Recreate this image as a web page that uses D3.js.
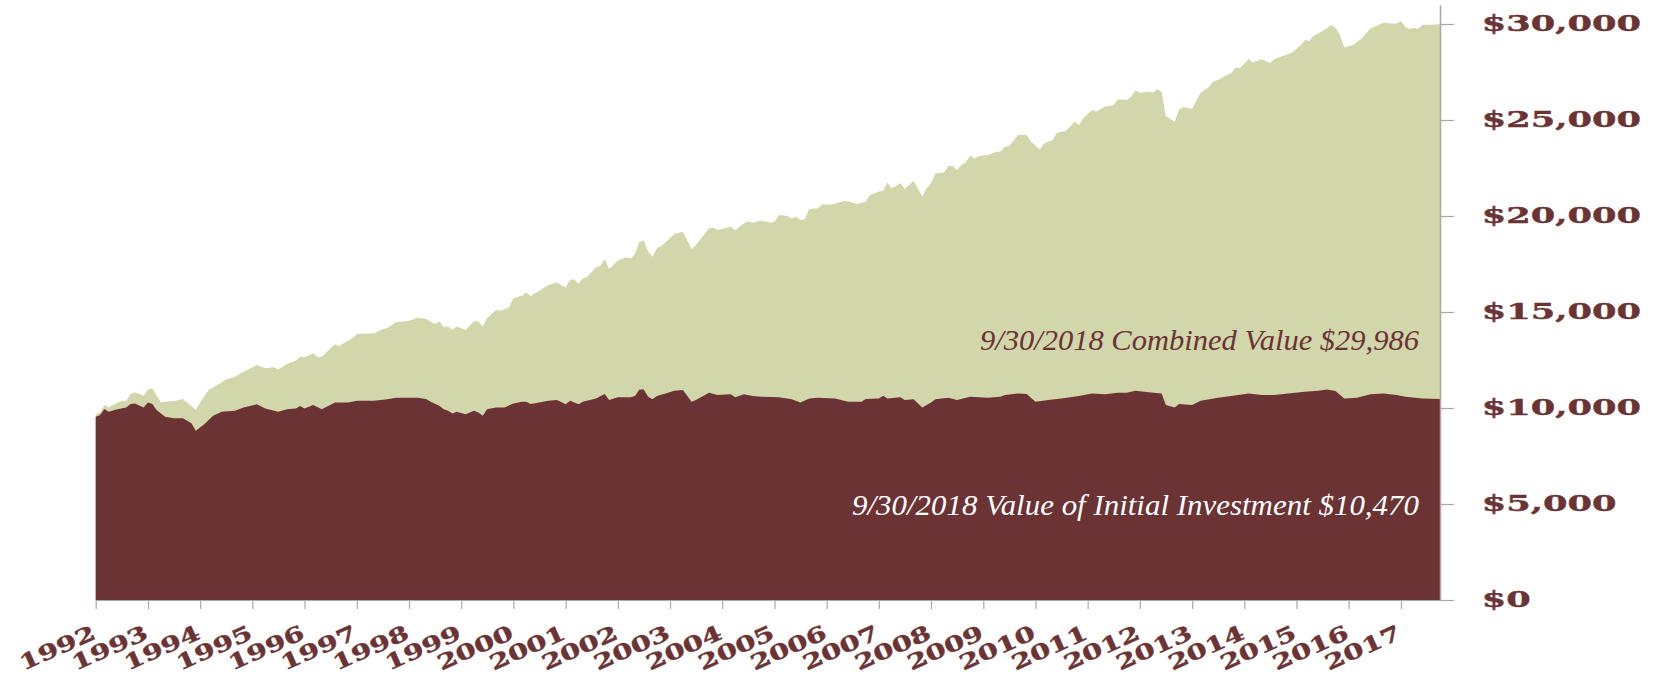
<!DOCTYPE html>
<html>
<head>
<meta charset="utf-8">
<script src="https://cdn.jsdelivr.net/npm/d3@7"></script>
<style>
  html, body { margin: 0; padding: 0; background: #ffffff; }
  svg { display: block; }
</style>
</head>
<body>
<svg id="chart" width="1653" height="677"></svg>
<script>
// ---------------- DATA ----------------
const yearLabels = ["1992","1993","1994","1995","1996","1997","1998","1999","2000","2001","2002","2003","2004",
  "2005","2006","2007","2008","2009","2010","2011","2012","2013","2014","2015","2016","2017"];

const yTickValues = [0, 5000, 10000, 15000, 20000, 25000, 30000];

const combinedDates = [
  "1992-01","1992-02","1992-03","1992-04","1992-05","1992-07","1992-08","1992-09","1992-10","1992-12",
  "1993-01","1993-02","1993-03","1993-04","1993-05","1993-07","1993-09","1993-10","1993-11","1993-12",
  "1994-01","1994-03","1994-05","1994-07","1994-09","1994-11",
  "1995-02","1995-04","1995-06","1995-07","1995-09","1995-11","1995-12",
  "1996-01","1996-03","1996-04","1996-05","1996-08","1996-09","1996-11","1996-12",
  "1997-01","1997-05","1997-07","1997-08","1997-10",
  "1998-01","1998-03","1998-05","1998-07","1998-08","1998-09","1998-10","1998-11","1998-12",
  "1999-02","1999-04","1999-05","1999-06","1999-07","1999-09","1999-10","1999-12",
  "2000-01","2000-03","2000-04","2000-05","2000-07","2000-09","2000-11",
  "2001-01","2001-02","2001-03","2001-04","2001-05","2001-06","2001-08","2001-09","2001-10","2001-11",
  "2002-01","2002-03","2002-04","2002-05","2002-06","2002-07","2002-08","2002-09","2002-10","2002-11",
  "2003-02","2003-04","2003-06","2003-07","2003-10","2003-11","2003-12",
  "2004-03","2004-04","2004-06","2004-07","2004-08","2004-10","2004-12",
  "2005-01","2005-02","2005-04","2005-05","2005-06","2005-07","2005-08","2005-09","2005-11","2005-12",
  "2006-02","2006-05","2006-06","2006-08","2006-10","2006-11",
  "2007-01","2007-02","2007-03","2007-04","2007-06","2007-07","2007-09","2007-11","2007-12",
  "2008-01","2008-02","2008-04","2008-05","2008-06","2008-07","2008-08","2008-09","2008-10","2008-11","2008-12",
  "2009-02","2009-04","2009-05","2009-06","2009-07","2009-09","2009-11","2009-12",
  "2010-02","2010-03","2010-05","2010-06","2010-08","2010-10","2010-11","2010-12",
  "2011-02","2011-03","2011-05","2011-07","2011-08","2011-10","2011-11","2011-12",
  "2012-01","2012-03","2012-04","2012-05","2012-06","2012-07","2012-09","2012-10","2012-11",
  "2013-01","2013-02","2013-03","2013-05","2013-06","2013-07","2013-09","2013-10","2013-11","2013-12",
  "2014-02","2014-03","2014-05","2014-07","2014-08","2014-11","2014-12",
  "2015-02","2015-03","2015-04","2015-05","2015-06","2015-08","2015-09","2015-10","2015-11","2015-12",
  "2016-02","2016-04","2016-06","2016-08","2016-09","2016-11","2016-12",
  "2017-01","2017-02","2017-03","2017-04","2017-05","2017-06","2017-08","2017-10"
];
const combinedValues = [
  9670,9760,10160,10030,10160,10380,10360,10730,10820,10640,
  10970,11020,10680,10280,10330,10360,10470,10280,10100,9900,
  10280,10940,11200,11490,11630,11890,
  12240,12070,12120,12010,12290,12470,12670,
  12640,12850,12640,12670,13320,13230,13510,13630,
  13850,13890,14100,14150,14460,
  14550,14700,14630,14370,14500,14200,14240,14060,14240,
  14060,14530,14500,14240,14670,15100,15070,15240,
  15710,15850,16010,15830,16110,16410,16530,
  16280,16670,16700,16460,16750,16840,17330,17400,17760,17240,
  17670,17850,17780,18020,18660,18710,18140,17880,18320,18440,
  19060,19180,18280,18490,19360,19390,19270,
  19440,19240,19620,19720,19650,19760,19650,
  19700,20050,20000,19880,19960,19790,19830,20360,20400,20610,
  20590,20780,20750,20620,20750,21090,
  21270,21320,21750,21440,21700,21410,21840,21010,21440,
  21700,22220,22260,22600,22600,22400,22660,22800,23150,23000,23120,
  23180,23350,23350,23610,23640,24220,24220,23870,
  23470,23780,23960,24340,24430,24910,24740,25090,
  25520,25430,25690,25780,26080,26040,26210,26530,
  26420,26470,26420,26600,26470,25210,24910,25550,25660,
  25580,26040,26400,26740,27030,27080,27340,27430,27740,27690,
  28180,28000,28160,27950,28180,28420,28520,
  28910,29170,29110,29390,29510,29770,29950,29810,29430,28780,
  28910,29250,29770,29960,30070,30030,30030,
  30160,29860,29740,29810,29740,29960,29960,29986
];

const initialDates = [
  "1992-01","1992-02","1992-03","1992-04","1992-06","1992-08","1992-09","1992-10","1992-12",
  "1993-01","1993-02","1993-03","1993-05","1993-07","1993-09","1993-11","1993-12",
  "1994-02","1994-04","1994-06","1994-09","1994-11",
  "1995-02","1995-04","1995-07","1995-09","1995-11","1995-12",
  "1996-01","1996-03","1996-05","1996-08","1996-11",
  "1997-01","1997-05","1997-08","1997-10",
  "1998-03","1998-05","1998-06","1998-08","1998-09","1998-10","1998-11","1998-12",
  "1999-02","1999-04","1999-05","1999-06","1999-07","1999-09","1999-11",
  "2000-01","2000-03","2000-04","2000-05","2000-07","2000-09","2000-11",
  "2001-01","2001-02","2001-04","2001-05","2001-08","2001-10","2001-11",
  "2002-01","2002-04","2002-05","2002-06","2002-07","2002-08","2002-09","2002-10","2002-12",
  "2003-02","2003-04","2003-06","2003-07","2003-10","2003-12",
  "2004-03","2004-04","2004-06","2004-08","2004-10",
  "2005-02","2005-05","2005-07","2005-09","2005-11",
  "2006-03","2006-06","2006-09","2006-10",
  "2007-01","2007-02","2007-03","2007-06","2007-07","2007-09","2007-11",
  "2008-01","2008-02","2008-05","2008-07","2008-10",
  "2009-02","2009-05","2009-06","2009-09","2009-11",
  "2010-01","2010-04","2010-07","2010-11",
  "2011-02","2011-05","2011-08","2011-10","2011-12",
  "2012-03","2012-06","2012-07","2012-09","2012-10",
  "2013-01","2013-03","2013-07","2013-10",
  "2014-02","2014-05","2014-08","2014-11",
  "2015-03","2015-06","2015-08","2015-10","2015-12",
  "2016-03","2016-06","2016-09","2016-12",
  "2017-02","2017-06","2017-10"
];
const initialValues = [
  9550,9640,9950,9810,9930,10020,10210,10240,10030,
  10280,10210,9900,9550,9460,9460,9200,8820,
  9170,9600,9810,9860,10030,
  10190,9980,9810,9930,9980,10100,
  9980,10160,9930,10280,10290,
  10380,10380,10450,10540,
  10540,10470,10330,10120,9930,9860,9720,9810,
  9670,9860,9770,9600,9930,10030,10030,
  10240,10330,10330,10210,10280,10380,10420,
  10190,10380,10190,10330,10500,10730,10420,
  10560,10560,10620,10970,10970,10590,10450,10620,10760,
  10900,10940,10330,10420,10800,10680,
  10710,10560,10710,10620,10590,
  10560,10450,10290,10500,10540,
  10490,10330,10330,10470,
  10500,10640,10490,10560,10420,10450,10030,
  10280,10450,10540,10420,10590,
  10540,10590,10680,10760,10730,
  10330,10420,10500,10620,
  10760,10710,10800,10800,10900,
  10820,10760,10160,10030,10210,
  10160,10380,10540,10620,
  10760,10680,10680,10760,
  10850,10900,10970,10890,10500,
  10540,10710,10760,10680,
  10590,10500,10470
];

const combinedLabel = "9/30/2018 Combined Value $29,986";
const initialLabel = "9/30/2018 Value of Initial Investment $10,470";

// ---------------- CHART ----------------
const parseMonth = d3.timeParse("%Y-%m");
const parseYear = d3.timeParse("%Y");

const combined = combinedDates.map((d, i) => ({ date: parseMonth(d), value: combinedValues[i] }));
const initial = initialDates.map((d, i) => ({ date: parseMonth(d), value: initialValues[i] }));

const GREEN = "#d1d6ab";
const MAROON = "#6b3334";
const AXIS = "#a9a9a9";

const svg = d3.select("#chart");

const x = d3.scaleTime()
  .domain([parseMonth("1992-01"), parseMonth("2017-10")])
  .range([95.7, 1440]);

const y = d3.scaleLinear()
  .domain([0, 31000])
  .range([600, 600 - 31000 * 576 / 30000]);

const area = d3.area()
  .x(d => x(d.date))
  .y0(y(0))
  .y1(d => y(d.value));

svg.append("path").datum(combined).attr("d", area).attr("fill", GREEN);
svg.append("path").datum(initial).attr("d", area).attr("fill", MAROON);

// X axis
const xAxis = svg.append("g")
  .attr("transform", `translate(0,${y(0)})`)
  .call(d3.axisBottom(x)
    .tickValues(yearLabels.map(parseYear))
    .tickFormat(d3.timeFormat("%Y"))
    .tickSize(9)
    .tickSizeOuter(0));
xAxis.select(".domain").attr("stroke", AXIS).attr("stroke-width", 1.2);
xAxis.selectAll(".tick line").attr("stroke", AXIS).attr("stroke-width", 1.2);
xAxis.selectAll(".tick text")
  .attr("x", null).attr("y", null).attr("dy", null)
  .attr("text-anchor", "end")
  .attr("transform", "translate(1,38) rotate(-24) scale(1.38,1)")
  .attr("fill", MAROON)
  .attr("stroke", MAROON)
  .attr("stroke-width", 0.4)
  .style("font-family", "'DejaVu Serif', serif")
  .style("font-weight", "bold")
  .style("font-size", "21px");

// Y axis (right)
const yAxis = svg.append("g")
  .attr("transform", `translate(${x.range()[1]},0)`)
  .call(d3.axisRight(y)
    .tickValues(yTickValues)
    .tickFormat(d3.format("$,"))
    .tickSize(14)
    .tickSizeOuter(0));
yAxis.select(".domain").attr("stroke", AXIS).attr("stroke-width", 1.5);
yAxis.selectAll(".tick line").attr("stroke", AXIS).attr("stroke-width", 1.2);
yAxis.selectAll(".tick text")
  .attr("x", null).attr("dy", null)
  .attr("text-anchor", "start")
  .attr("transform", "translate(41.7,6) scale(1.6,1)")
  .attr("fill", MAROON)
  .attr("stroke", MAROON)
  .attr("stroke-width", 0.4)
  .style("font-family", "'DejaVu Serif', serif")
  .style("font-weight", "bold")
  .style("font-size", "22px");

// Annotations
const annX = x.range()[1] - 21;
svg.append("text")
  .attr("x", annX - 439).attr("y", 350)
  .attr("textLength", 439).attr("lengthAdjust", "spacingAndGlyphs")
  .attr("fill", MAROON)
  .style("font-family", "'Liberation Serif', serif")
  .style("font-style", "italic")
  .style("font-size", "29px")
  .text(combinedLabel);

svg.append("text")
  .attr("x", annX - 567).attr("y", 515)
  .attr("textLength", 567).attr("lengthAdjust", "spacingAndGlyphs")
  .attr("fill", "#ffffff")
  .style("font-family", "'Liberation Serif', serif")
  .style("font-style", "italic")
  .style("font-size", "29px")
  .text(initialLabel);
</script>
</body>
</html>
